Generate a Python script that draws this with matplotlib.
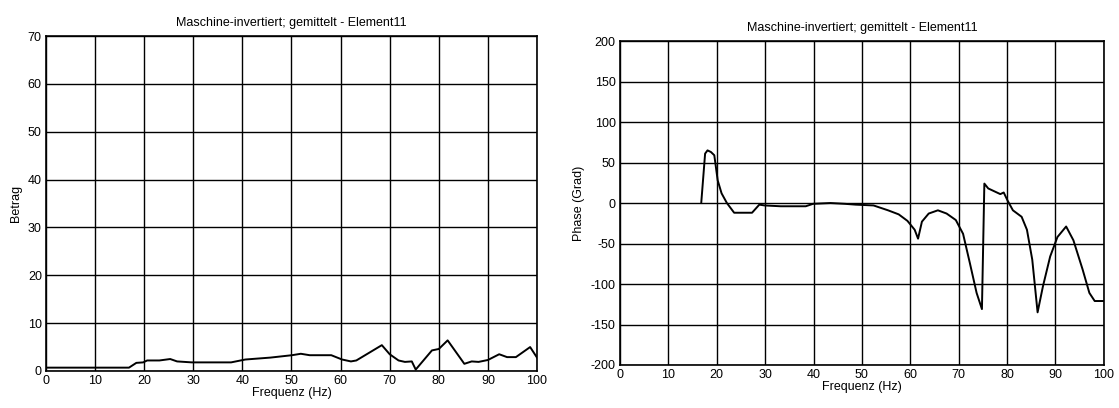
import numpy as np
import matplotlib
matplotlib.use('Agg')
import matplotlib.pyplot as plt

plt.rcParams['font.family'] = ['Liberation Sans', 'DejaVu Sans']
plt.rcParams['axes.unicode_minus'] = False

title = 'Maschine-invertiert; gemittelt - Element11'

# Betrag (magnitude)
freq_mag = [0, 16.9, 18.4, 19.8, 20.6, 23.1, 25.3, 26.7, 29.7, 37.7, 40.6, 45.7,
            50.1, 51.9, 53.7, 58.1, 60.3, 62.1, 63.2, 68.4, 70.0, 71.8, 73.1,
            74.5, 75.3, 78.6, 80.0, 81.8, 85.2, 86.7, 88.1, 90.0, 92.3, 93.9,
            95.7, 98.6, 100]
betrag = [0.7, 0.7, 1.7, 1.8, 2.2, 2.2, 2.5, 2.0, 1.8, 1.8, 2.4, 2.8,
          3.3, 3.6, 3.3, 3.3, 2.4, 2.0, 2.2, 5.4, 3.5, 2.2, 1.9,
          2.0, 0.3, 4.3, 4.6, 6.4, 1.5, 2.0, 1.9, 2.3, 3.5, 2.9,
          2.9, 5.0, 2.8]

# Phase (Grad)
freq_ph = [16.8, 17.6, 18.1, 18.8, 19.5, 20.2, 21.0, 22.1, 23.6, 27.3, 28.8,
           29.9, 33.2, 38.4, 39.9, 43.5, 46.5, 48.7, 52.4, 55.4, 57.6, 59.4,
           60.9, 61.6, 62.4, 63.8, 65.7, 67.5, 69.4, 70.9, 72.3, 73.7, 74.8,
           75.3, 76.1, 78.6, 79.3, 80.1, 81.2, 83.0, 84.1, 85.2, 86.3, 87.4,
           88.9, 90.4, 92.2, 93.7, 95.6, 97.0, 98.1, 100]
phase = [0, 61, 65, 63, 59, 28, 12, 0, -12, -12, -2,
         -3, -4, -4, -1, 0, -1, -2, -3, -9, -14, -22,
         -33, -44, -23, -13, -9, -13, -21, -38, -74, -111, -131,
         24, 18, 11, 13, 3, -9, -17, -33, -70, -135, -103,
         -66, -42, -29, -46, -82, -111, -121, -121]

fig = plt.figure(figsize=(11.19, 4.08), dpi=100)
ax1 = fig.add_axes([0.0411, 0.0907, 0.4388, 0.821])
ax2 = fig.add_axes([0.554, 0.1054, 0.4325, 0.794])

def style(ax):
    ax.set_xlim(0, 100)
    ax.set_xticks(np.arange(0, 101, 10))
    ax.grid(True, color='black', linewidth=1.0)
    ax.tick_params(length=0, labelsize=9, pad=3)
    for s in ax.spines.values():
        s.set_linewidth(1.2)
    ax.set_title(title, fontsize=9, pad=7)
    ax.set_xlabel('Frequenz (Hz)', fontsize=9, labelpad=0)

ax1.plot(freq_mag, betrag, color='black', linewidth=1.4)
ax1.set_ylim(0, 70)
ax1.set_yticks(np.arange(0, 71, 10))
ax1.set_ylabel('Betrag', fontsize=9, labelpad=4)
style(ax1)

ax2.plot(freq_ph, phase, color='black', linewidth=1.4)
ax2.set_ylim(-200, 200)
ax2.set_yticks(np.arange(-200, 201, 50))
ax2.set_ylabel('Phase (Grad)', fontsize=9, labelpad=4)
style(ax2)

fig.savefig('out.png', dpi=100)
